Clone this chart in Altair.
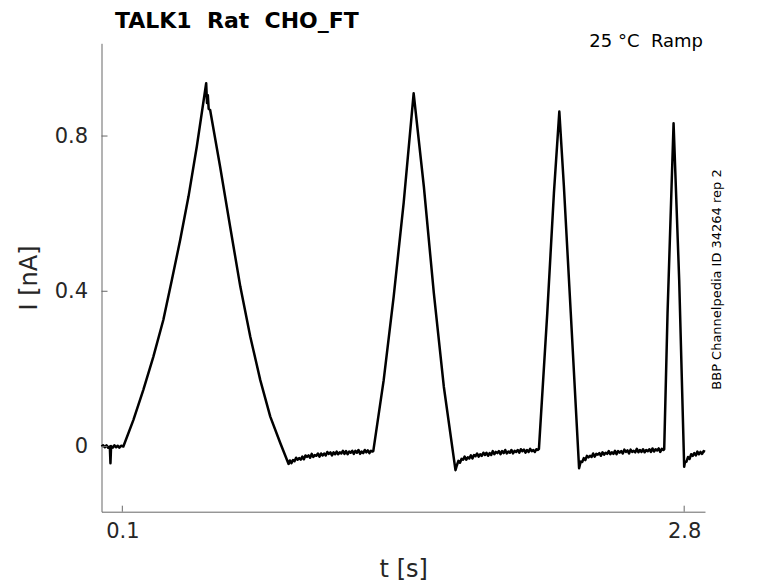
import altair as alt
import pandas as pd

# ---- data (hand-read trace, section by section) ----
t_start = [0.000, 0.008, 0.016, 0.024, 0.032, 0.040, 0.043, 0.046, 0.054, 0.062, 0.070, 0.078, 0.086, 0.094, 0.105]
i_start = [0.000, 0.003, -0.002, 0.003, -0.003, 0.000, -0.043, 0.001, -0.003, 0.003, -0.002, 0.002, -0.003, 0.002, 0.000]

t_ramp1 = [0.153, 0.201, 0.249, 0.297, 0.338, 0.378, 0.418, 0.458, 0.503, 0.507, 0.511, 0.515,
           0.522, 0.570, 0.618, 0.667, 0.715, 0.763, 0.811, 0.859, 0.899]
i_ramp1 = [0.068, 0.146, 0.231, 0.326, 0.429, 0.532, 0.644, 0.773, 0.936, 0.885, 0.905, 0.870,
           0.867, 0.721, 0.567, 0.412, 0.283, 0.171, 0.077, 0.009, -0.045]

t_base1 = [0.905, 0.9125, 0.92, 0.9275, 0.935, 0.9425, 0.95, 0.9575, 0.965, 0.9725, 0.98, 0.9875,
           0.995, 1.0025, 1.01, 1.0175, 1.025, 1.0325, 1.04, 1.0475, 1.055, 1.0625, 1.07, 1.0775,
           1.085, 1.0925, 1.10, 1.1075, 1.115, 1.1225, 1.13, 1.1375, 1.145, 1.1525, 1.16, 1.1675,
           1.175, 1.1825, 1.19, 1.1975, 1.205, 1.2125, 1.22, 1.2275, 1.235, 1.2425, 1.25, 1.2575,
           1.265, 1.2725, 1.28, 1.2875, 1.295, 1.302, 1.306]
i_base1 = [-0.036, -0.043, -0.035, -0.038, -0.029, -0.034, -0.030, -0.034, -0.026, -0.033, -0.023, -0.027,
           -0.023, -0.029, -0.019, -0.027, -0.022, -0.024, -0.018, -0.026, -0.018, -0.023, -0.018, -0.023,
           -0.014, -0.019, -0.015, -0.023, -0.015, -0.020, -0.013, -0.020, -0.015, -0.018, -0.011, -0.019,
           -0.012, -0.020, -0.013, -0.016, -0.011, -0.019, -0.011, -0.016, -0.009, -0.019, -0.013, -0.017,
           -0.009, -0.015, -0.010, -0.017, -0.011, -0.013, -0.012]

t_ramp2 = [1.356, 1.404, 1.452, 1.500, 1.549, 1.597, 1.645, 1.701]
i_ramp2 = [0.171, 0.386, 0.628, 0.910, 0.670, 0.395, 0.154, -0.061]

t_base2 = [1.7075, 1.715, 1.7225, 1.73, 1.7375, 1.745, 1.7525, 1.76, 1.7675, 1.775, 1.7825, 1.79,
           1.7975, 1.805, 1.8125, 1.82, 1.8275, 1.835, 1.8425, 1.85, 1.8575, 1.865, 1.8725, 1.88,
           1.8875, 1.895, 1.9025, 1.91, 1.9175, 1.925, 1.9325, 1.94, 1.9475, 1.955, 1.9625, 1.97,
           1.9775, 1.985, 1.9925, 2.00, 2.0075, 2.015, 2.0225, 2.03, 2.0375, 2.045, 2.0525, 2.06,
           2.0675, 2.075, 2.0825, 2.09, 2.097, 2.102]
i_base2 = [-0.049, -0.037, -0.042, -0.032, -0.034, -0.026, -0.034, -0.028, -0.031, -0.023, -0.031, -0.022,
           -0.025, -0.018, -0.026, -0.020, -0.024, -0.016, -0.022, -0.016, -0.024, -0.017, -0.022, -0.012,
           -0.020, -0.014, -0.017, -0.012, -0.020, -0.012, -0.017, -0.009, -0.018, -0.013, -0.016, -0.009,
           -0.018, -0.011, -0.014, -0.009, -0.016, -0.007, -0.012, -0.008, -0.016, -0.009, -0.014, -0.006,
           -0.012, -0.009, -0.014, -0.007, -0.009, -0.006]

t_ramp3 = [2.142, 2.174, 2.200, 2.222, 2.255, 2.295]
i_ramp3 = [0.343, 0.653, 0.863, 0.670, 0.344, -0.056]

t_base3 = [2.3025, 2.31, 2.3175, 2.325, 2.3325, 2.34, 2.3475, 2.355, 2.3625, 2.37, 2.3775, 2.385,
           2.3925, 2.40, 2.4075, 2.415, 2.4225, 2.43, 2.4375, 2.445, 2.4525, 2.46, 2.4675, 2.475,
           2.4825, 2.49, 2.4975, 2.505, 2.5125, 2.52, 2.5275, 2.535, 2.5425, 2.55, 2.5575, 2.565,
           2.5725, 2.58, 2.5875, 2.595, 2.6025, 2.61, 2.6175, 2.625, 2.6325, 2.64, 2.6475, 2.655,
           2.6625, 2.67, 2.6775, 2.685, 2.6925, 2.70, 2.704]
i_base3 = [-0.039, -0.040, -0.030, -0.035, -0.024, -0.028, -0.024, -0.027, -0.018, -0.026, -0.019, -0.021,
           -0.017, -0.024, -0.015, -0.021, -0.016, -0.019, -0.012, -0.020, -0.015, -0.019, -0.011, -0.020,
           -0.012, -0.016, -0.012, -0.018, -0.008, -0.014, -0.010, -0.018, -0.008, -0.014, -0.011, -0.015,
           -0.006, -0.015, -0.009, -0.014, -0.007, -0.015, -0.009, -0.012, -0.007, -0.014, -0.005, -0.013,
           -0.007, -0.010, -0.005, -0.014, -0.006, -0.009, -0.007]

t_ramp4 = [2.720, 2.749, 2.776, 2.800]
i_ramp4 = [0.343, 0.833, 0.429, -0.052]

t_base4 = [2.8035, 2.811, 2.8185, 2.826, 2.8335, 2.841, 2.8485, 2.856, 2.8635, 2.871, 2.8785, 2.886, 2.8935, 2.90]
i_base4 = [-0.041, -0.039, -0.027, -0.032, -0.020, -0.024, -0.017, -0.023, -0.013, -0.020, -0.014, -0.019, -0.012, -0.014]

x_ticks = [0.1, 2.8]
y_ticks = [0.0, 0.4, 0.8]
x_domain = [0.0, 2.9]
y_domain = [-0.168, 1.039]

title_text = ["TALK1\u00a0 Rat\u00a0 CHO_FT"]
corner_text = ["25 °C\u00a0 Ramp"]
side_text = ["BBP Channelpedia ID 34264 rep 2"]

t_vals = t_start + t_ramp1 + t_base1 + t_ramp2 + t_base2 + t_ramp3 + t_base3 + t_ramp4 + t_base4
i_vals = i_start + i_ramp1 + i_base1 + i_ramp2 + i_base2 + i_ramp3 + i_base3 + i_ramp4 + i_base4

W = 603.5
H = 468.4
FONT = "DejaVu Sans"

trace = pd.DataFrame({"t": t_vals, "I": i_vals, "k": list(range(len(t_vals)))})

xs = alt.Scale(domain=x_domain, nice=False, zero=False)
ys = alt.Scale(domain=y_domain, nice=False, zero=False)

line = alt.Chart(trace).mark_line(color="black", strokeWidth=2.5, strokeJoin="round").encode(
    x=alt.X("t:Q", scale=xs, axis=alt.Axis(
        values=x_ticks, format="~g", ticks=False, grid=False,
        title="t [s]", titleFontSize=24, titleFont=FONT, titleFontWeight="normal",
        titleColor="#262626", titleX=W / 2, titleY=65, titleBaseline="alphabetic",
        titleAlign="center",
        labelFontSize=21, labelFont=FONT, labelColor="#262626", labelPadding=9,
        domainColor="#666666", domainWidth=1,
    )),
    y=alt.Y("I:Q", scale=ys, axis=alt.Axis(
        values=y_ticks, format="~g", ticks=False, grid=False,
        title="I [nA]", titleFontSize=24, titleFont=FONT, titleFontWeight="normal",
        titleColor="#262626", titleX=-72, titleY=H / 2, titleAngle=-90,
        titleBaseline="middle", titleAlign="center",
        labelFontSize=21, labelFont=FONT, labelColor="#262626", labelPadding=14,
        domainColor="#666666", domainWidth=1,
    )),
    order="k:Q",
)

xt = alt.Chart(pd.DataFrame({"v": x_ticks})).mark_rule(color="#666666", strokeWidth=1).encode(
    x=alt.X("v:Q", scale=xs), y=alt.value(H), y2=alt.value(H - 6)
)
yt = alt.Chart(pd.DataFrame({"v": y_ticks})).mark_rule(color="#666666", strokeWidth=1).encode(
    y=alt.Y("v:Q", scale=ys), x=alt.value(0), x2=alt.value(6)
)

title = alt.Chart(pd.DataFrame({"s": title_text})).mark_text(
    align="left", baseline="alphabetic", fontSize=22, font=FONT, fontWeight="bold", color="black"
).encode(x=alt.value(13.5), y=alt.value(-14.8), text="s:N")

corner = alt.Chart(pd.DataFrame({"s": corner_text})).mark_text(
    align="right", baseline="alphabetic", fontSize=18, font=FONT, color="black"
).encode(x=alt.value(W - 2), y=alt.value(3.5), text="s:N")

side = alt.Chart(pd.DataFrame({"s": side_text})).mark_text(
    align="center", baseline="middle", fontSize=13, font=FONT, color="black", angle=270
).encode(x=alt.value(W + 12), y=alt.value(H / 2 + 2), text="s:N")

chart = alt.layer(line, xt, yt, title, corner, side).properties(
    width=W,
    height=H,
    background="white",
    autosize=alt.AutoSizeParams(type="none"),
    padding={"left": 93.5, "top": 35.3, "right": 60, "bottom": 72},
).configure_view(stroke=None)

chart.save("out.html", embed_options={"renderer": "svg", "actions": False})
